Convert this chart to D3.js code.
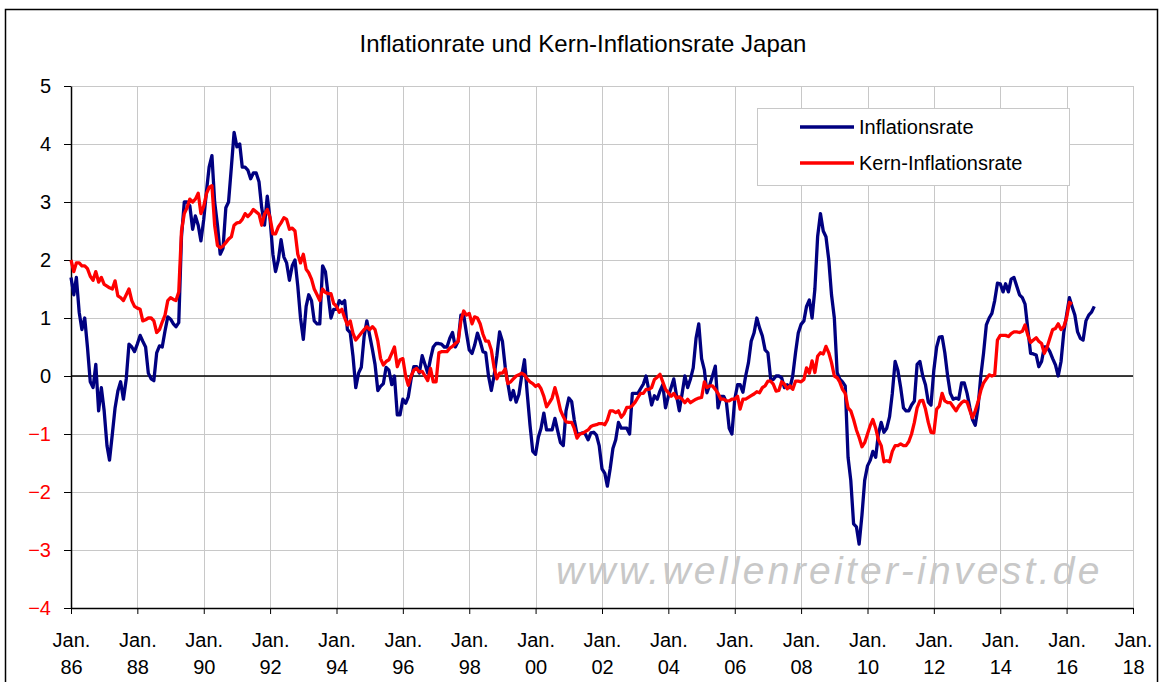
<!DOCTYPE html>
<html>
<head>
<meta charset="utf-8">
<script src="https://cdn.jsdelivr.net/npm/d3@7"></script>
<style>
body { margin: 0; background: #fff; }
text { font-family: "Liberation Sans", Arial, sans-serif; }
</style>
</head>
<body>
<div id="chart"></div>
<script>
/* jshint esversion: 6 */
///////////////////////////////////////////////////////////////////////////////
//// Data /////////////////////////////////////////////////////////////////////
///////////////////////////////////////////////////////////////////////////////

const title = "Inflationrate und Kern-Inflationsrate Japan";
const seriesNames = ["Inflationsrate", "Kern-Inflationsrate"];
const startYear = 1986; // first value = Jan. 1986, one value per month
const watermark = "www.wellenreiter-invest.de";

// Inflationsrate, % y/y, one row per year
const inflation = [
	1.7, 1.4, 1.7, 1.1, 0.8, 1.0, 0.5, -0.1, -0.2, 0.2, -0.6, -0.2, // 86
	-0.6, -1.2, -1.45, -1.0, -0.55, -0.26, -0.1, -0.4, -0.05, 0.55, 0.5, 0.42, // 87
	0.55, 0.7, 0.6, 0.5, 0.05, -0.05, -0.08, 0.4, 0.52, 0.5, 0.78, 1.02, // 88
	0.98, 0.9, 0.85, 0.92, 2.4, 3.0, 3.0, 2.93, 2.53, 2.76, 2.6, 2.33, // 89
	2.7, 3.2, 3.6, 3.8, 3.0, 2.6, 2.1, 2.2, 2.9, 3.0, 3.6, 4.2, // 90
	3.95, 4.0, 3.6, 3.6, 3.55, 3.4, 3.5, 3.5, 3.35, 2.9, 2.6, 3.1, // 91
	2.7, 2.1, 1.8, 2.0, 2.35, 2.05, 1.95, 1.65, 1.9, 2.0, 1.55, 1.0, // 92
	0.63, 1.2, 1.4, 1.3, 0.95, 0.9, 0.9, 1.9, 1.8, 1.4, 1.0, 1.15, // 93
	1.15, 1.3, 1.25, 1.3, 0.8, 0.75, 0.35, -0.2, 0.05, 0.15, 0.68, 0.95, // 94
	0.7, 0.45, 0.2, -0.25, -0.18, -0.13, 0.15, 0.1, -0.15, 0.0, -0.67, -0.67, // 95
	-0.4, -0.47, -0.36, -0.05, 0.16, 0.16, 0.05, 0.35, 0.2, 0.05, 0.3, 0.5, // 96
	0.56, 0.56, 0.55, 0.5, 0.5, 0.65, 0.75, 0.5, 0.6, 1.05, 1.05, 0.74, // 97
	0.45, 0.39, 0.53, 0.74, 0.6, 0.42, 0.4, 0.0, -0.25, 0.0, 0.35, 0.76, // 98
	0.6, 0.15, -0.12, -0.41, -0.25, -0.45, -0.32, 0.0, 0.28, -0.3, -0.85, -1.3, // 99
	-1.35, -1.05, -0.9, -0.64, -0.93, -0.93, -0.93, -0.73, -0.95, -1.15, -1.2, -0.6, // 00
	-0.38, -0.44, -0.75, -1.0, -1.0, -0.98, -1.0, -1.1, -0.98, -0.97, -1.02, -1.2, // 01
	-1.6, -1.68, -1.9, -1.6, -1.25, -1.1, -0.8, -0.9, -0.9, -0.9, -1.0, -0.3, // 02
	-0.3, -0.3, -0.22, -0.14, 0.0, -0.25, -0.5, -0.34, -0.4, -0.26, -0.15, -0.55, // 03
	-0.35, -0.2, -0.05, -0.35, -0.6, -0.3, 0.0, -0.2, -0.05, 0.14, 0.65, 0.9, // 04
	0.3, 0.1, -0.29, -0.15, 0.0, 0.17, -0.55, -0.35, -0.35, -0.45, -0.9, -1.0, // 05
	-0.4, -0.15, -0.15, -0.28, 0.0, 0.23, 0.6, 0.74, 1.0, 0.83, 0.69, 0.45, // 06
	0.4, -0.06, -0.06, 0.0, 0.0, -0.03, -0.2, -0.15, -0.2, 0.0, 0.4, 0.74, // 07
	0.89, 0.95, 1.2, 1.31, 1.0, 1.5, 2.4, 2.8, 2.5, 2.4, 2.0, 1.4, // 08
	1.0, 0.06, -0.05, -0.1, -0.17, -1.4, -1.8, -2.55, -2.6, -2.9, -2.4, -1.8, // 09
	-1.55, -1.45, -1.3, -1.4, -1.0, -0.8, -0.97, -0.9, -0.7, -0.3, 0.25, 0.1, // 10
	-0.2, -0.55, -0.6, -0.6, -0.5, -0.43, 0.2, 0.25, 0.0, -0.15, -0.45, -0.5, // 11
	0.1, 0.5, 0.67, 0.68, 0.4, 0.0, -0.3, -0.4, -0.38, -0.4, -0.12, -0.12, // 12
	-0.3, -0.55, -0.75, -0.85, -0.55, 0.0, 0.39, 0.88, 1.0, 1.08, 1.3, 1.6, // 13
	1.59, 1.45, 1.59, 1.45, 1.67, 1.7, 1.55, 1.4, 1.35, 1.24, 0.8, 0.39, // 14
	0.38, 0.36, 0.16, 0.25, 0.5, 0.5, 0.42, 0.3, 0.19, 0.0, 0.25, 0.75, // 15
	1.05, 1.35, 1.2, 1.05, 0.76, 0.65, 0.62, 0.95, 1.05, 1.1, 1.2 // 16
];

// Kern-Inflationsrate, % y/y, one row per year
const coreInflation = [
	2.0, 1.8, 1.95, 1.95, 1.9, 1.9, 1.85, 1.72, 1.65, 1.8, 1.62, 1.7, // 86
	1.58, 1.55, 1.52, 1.5, 1.64, 1.38, 1.35, 1.3, 1.4, 1.5, 1.3, 1.2, // 87
	1.17, 1.15, 0.95, 0.97, 1.0, 1.0, 0.95, 0.75, 0.8, 0.93, 1.05, 1.3, // 88
	1.35, 1.32, 1.3, 1.45, 2.5, 2.8, 2.9, 3.05, 3.0, 3.05, 3.15, 2.8, // 89
	2.93, 3.15, 3.25, 3.28, 2.6, 2.25, 2.21, 2.24, 2.3, 2.36, 2.4, 2.6, // 90
	2.64, 2.65, 2.7, 2.8, 2.75, 2.8, 2.87, 2.83, 2.79, 2.6, 2.79, 2.87, // 91
	2.73, 2.45, 2.45, 2.57, 2.64, 2.73, 2.7, 2.53, 2.55, 2.5, 2.1, 1.95, // 92
	2.1, 1.84, 1.78, 1.67, 1.5, 1.4, 1.3, 1.5, 1.44, 1.42, 1.42, 1.25, // 93
	1.2, 1.1, 1.15, 1.0, 0.88, 0.95, 0.74, 0.62, 0.68, 0.74, 0.8, 0.85, // 94
	0.8, 0.85, 0.8, 0.6, 0.3, 0.19, 0.25, 0.28, 0.39, 0.5, 0.16, 0.28, // 95
	0.3, 0.0, -0.16, 0.0, 0.1, 0.13, 0.07, 0.08, 0.0, -0.08, 0.13, -0.1, // 96
	-0.1, 0.4, 0.42, 0.42, 0.42, 0.48, 0.51, 0.56, 0.6, 0.95, 1.12, 1.05, // 97
	1.08, 0.9, 1.02, 1.0, 0.9, 0.72, 0.6, 0.6, 0.45, 0.15, -0.05, 0.05, // 98
	0.05, 0.12, -0.13, -0.1, -0.05, 0.0, 0.02, 0.05, 0.02, -0.05, -0.1, -0.13, // 99
	-0.18, -0.15, -0.22, -0.35, -0.53, -0.46, -0.38, -0.2, -0.38, -0.59, -0.7, -0.79, // 00
	-0.8, -0.8, -0.9, -1.07, -1.0, -0.99, -0.96, -0.93, -0.87, -0.85, -0.84, -0.82, // 01
	-0.82, -0.84, -0.76, -0.6, -0.6, -0.63, -0.6, -0.71, -0.65, -0.54, -0.54, -0.51, // 02
	-0.45, -0.37, -0.3, -0.3, -0.23, -0.23, -0.2, -0.06, -0.02, 0.03, -0.1, -0.23, // 03
	-0.29, -0.35, -0.3, -0.38, -0.36, -0.4, -0.46, -0.4, -0.46, -0.43, -0.4, -0.38, // 04
	-0.37, -0.1, -0.2, -0.17, -0.17, -0.23, -0.3, -0.4, -0.4, -0.43, -0.43, -0.4, // 05
	-0.4, -0.35, -0.57, -0.4, -0.4, -0.37, -0.34, -0.31, -0.27, -0.29, -0.2, -0.17, // 06
	-0.09, -0.09, -0.14, -0.26, -0.25, -0.1, -0.14, -0.22, -0.17, -0.23, -0.09, -0.09, // 07
	-0.1, -0.06, 0.14, 0.05, 0.26, 0.06, 0.34, 0.4, 0.38, 0.51, 0.4, 0.23, // 08
	0.0, -0.03, -0.1, -0.23, -0.3, -0.55, -0.6, -0.75, -0.93, -1.06, -1.22, -1.15, // 09
	-1.0, -0.85, -0.75, -0.9, -1.1, -1.2, -1.48, -1.46, -1.48, -1.3, -1.2, -1.2, // 10
	-1.17, -1.2, -1.2, -1.13, -1.0, -0.8, -0.55, -0.43, -0.42, -0.57, -0.8, -0.97, // 11
	-0.98, -0.57, -0.52, -0.3, -0.43, -0.46, -0.46, -0.53, -0.6, -0.52, -0.46, -0.43, // 12
	-0.45, -0.6, -0.72, -0.6, -0.45, -0.25, -0.12, -0.05, 0.02, 0.0, 0.02, 0.62, // 13
	0.7, 0.7, 0.7, 0.68, 0.73, 0.76, 0.76, 0.75, 0.77, 0.88, 0.7, 0.58, // 14
	0.62, 0.66, 0.6, 0.56, 0.39, 0.5, 0.65, 0.8, 0.82, 0.9, 0.8, 0.85, // 15
	1.0, 1.27, 1.24 // 16
];

const yTicks = [-4, -3, -2, -1, 0, 1, 2, 3, 4, 5];
const xTickYears = [1986, 1988, 1990, 1992, 1994, 1996, 1998, 2000, 2002,
	2004, 2006, 2008, 2010, 2012, 2014, 2016, 2018];

///////////////////////////////////////////////////////////////////////////////
//// Initial Set Up ///////////////////////////////////////////////////////////
///////////////////////////////////////////////////////////////////////////////

const width = 1161,
			height = 682;

const plot = { left: 71, right: 1133, top: 86, bottom: 608 };

const colors = ["#000080", "#FF0000"];
const gridColor = "#C8C8C8";

const svg = d3.select("#chart").append("svg")
		.attr("width", width)
		.attr("height", height)
		.style("display", "block");

const x = d3.scaleTime()
		.domain([new Date(1986, 0, 1), new Date(2018, 0, 1)])
		.range([plot.left, plot.right]);

const y = d3.scaleLinear()
		.domain([-4, 5])
		.range([plot.bottom, plot.top]);

// outer frame
svg.append("rect")
		.attr("x", 5.5)
		.attr("y", 9.5)
		.attr("width", 1152)
		.attr("height", 720)
		.attr("fill", "#fff")
		.attr("stroke", "#000")
		.attr("stroke-width", 1.5);

svg.append("text")
		.attr("x", 583)
		.attr("y", 52)
		.attr("text-anchor", "middle")
		.style("font-size", "24px")
		.text(title);

///////////////////////////////////////////////////////////////////////////////
//// Grid /////////////////////////////////////////////////////////////////////
///////////////////////////////////////////////////////////////////////////////

const grid = svg.append("g").attr("id", "grid");

grid.selectAll(".hgrid")
	.data(yTicks.filter(d => d > -4))
	.enter().append("line")
		.attr("x1", plot.left)
		.attr("x2", plot.right)
		.attr("y1", d => Math.round(y(d)) + 0.5)
		.attr("y2", d => Math.round(y(d)) + 0.5)
		.attr("stroke", gridColor);

grid.selectAll(".vgrid")
	.data(xTickYears.filter(d => d > 1986))
	.enter().append("line")
		.attr("x1", d => Math.round(x(new Date(d, 0, 1))) + 0.5)
		.attr("x2", d => Math.round(x(new Date(d, 0, 1))) + 0.5)
		.attr("y1", plot.top)
		.attr("y2", plot.bottom)
		.attr("stroke", gridColor);

// watermark sits behind the lines
svg.append("text")
		.attr("x", 556)
		.attr("y", 584)
		.style("font-size", "39px")
		.style("font-style", "italic")
		.style("letter-spacing", "3.3px")
		.attr("fill", "#C8C8C8")
		.text(watermark);

///////////////////////////////////////////////////////////////////////////////
//// Axes /////////////////////////////////////////////////////////////////////
///////////////////////////////////////////////////////////////////////////////

const yAxis = svg.append("g")
		.attr("transform", `translate(${plot.left},0)`)
		.call(d3.axisLeft(y)
			.tickValues(yTicks)
			.tickSize(7)
			.tickSizeOuter(0)
			.tickPadding(13)
			.tickFormat(d3.format("d")));
yAxis.selectAll("text")
		.style("font-size", "20px")
		.style("font-family", "'Liberation Sans', Arial, sans-serif")
		.attr("fill", d => d < 0 ? "#FF0000" : "#000");

const xAxis = svg.append("g")
		.attr("transform", `translate(0,${plot.bottom})`)
		.call(d3.axisBottom(x)
			.tickValues(xTickYears.map(d => new Date(d, 0, 1)))
			.tickSize(6)
			.tickSizeOuter(0)
			.tickFormat(""));
xAxis.selectAll(".tick text").remove();
const xLabels = xAxis.selectAll(".tick")
	.append("text")
		.attr("fill", "#000")
		.attr("text-anchor", "middle")
		.style("font-size", "20px")
		.style("font-family", "'Liberation Sans', Arial, sans-serif");
xLabels.append("tspan")
		.attr("x", 0)
		.attr("y", 39)
		.text("Jan.");
xLabels.append("tspan")
		.attr("x", 0)
		.attr("y", 66)
		.text(d => String(d.getFullYear() % 100).padStart(2, "0"));

svg.selectAll(".domain")
		.attr("stroke", "#000")
		.attr("stroke-width", 1.5);
svg.selectAll(".tick line")
		.attr("stroke", "#000");

// zero line
svg.append("line")
		.attr("x1", plot.left)
		.attr("x2", plot.right)
		.attr("y1", y(0))
		.attr("y2", y(0))
		.attr("stroke", "#000")
		.attr("stroke-width", 1.5);

///////////////////////////////////////////////////////////////////////////////
//// Lines ////////////////////////////////////////////////////////////////////
///////////////////////////////////////////////////////////////////////////////

const line = d3.line()
		.x((d, i) => x(new Date(startYear, i, 1)))
		.y(d => y(d));

[inflation, coreInflation].forEach((values, i) => {
	svg.append("path")
			.datum(values)
			.attr("fill", "none")
			.attr("stroke", colors[i])
			.attr("stroke-width", 3.3)
			.attr("stroke-linejoin", "round")
			.attr("d", line);
});

///////////////////////////////////////////////////////////////////////////////
//// Legend ///////////////////////////////////////////////////////////////////
///////////////////////////////////////////////////////////////////////////////

const legendG = svg.append("g")
		.attr("transform", "translate(757, 108)");
legendG.append("rect")
		.attr("x", 0.5)
		.attr("y", 0.5)
		.attr("width", 312)
		.attr("height", 77)
		.attr("fill", "#fff")
		.attr("stroke", gridColor);
const legendRow = legendG.selectAll(".row")
	.data(seriesNames)
	.enter().append("g")
		.attr("transform", (d, i) => `translate(0, ${19 + i * 36})`);
legendRow.append("line")
		.attr("x1", 43)
		.attr("x2", 97)
		.attr("stroke", (d, i) => colors[i])
		.attr("stroke-width", 3.3);
legendRow.append("text")
		.attr("x", 102)
		.attr("y", 7)
		.style("font-size", "20px")
		.text(d => d);
</script>
</body>
</html>
